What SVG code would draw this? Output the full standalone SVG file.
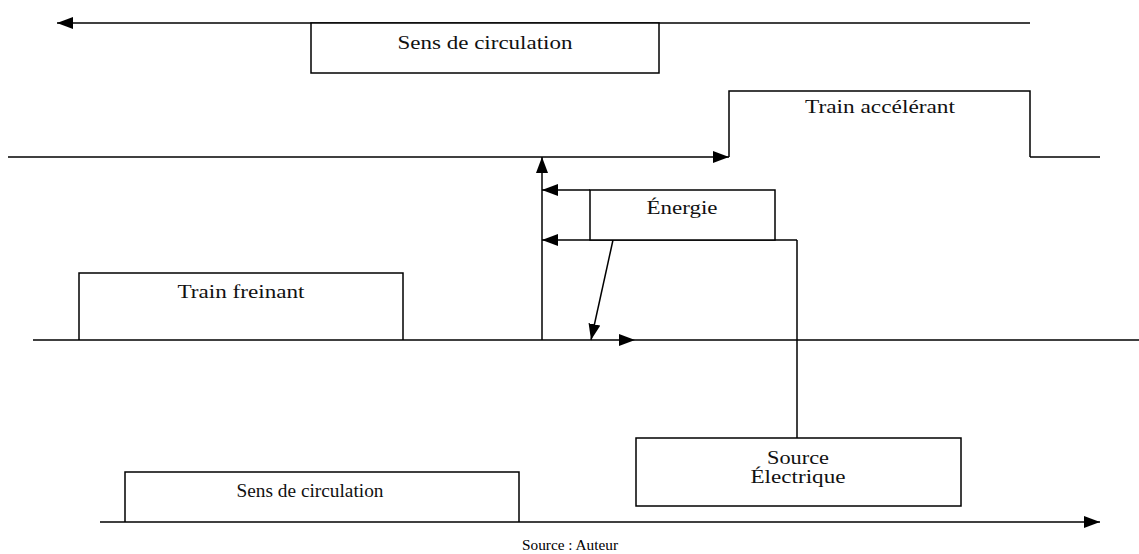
<svg xmlns="http://www.w3.org/2000/svg" width="1139" height="554" viewBox="0 0 1139 554">
<style>
.ln{stroke:#000;stroke-width:1.5;fill:none}
.bx{stroke:#000;stroke-width:1.5;fill:#fff}
.t{font-family:'Liberation Serif','DejaVu Serif',serif;font-size:18px;fill:#111;text-anchor:middle}
.s{font-family:'Liberation Serif','DejaVu Serif',serif;font-size:14px;fill:#000;text-anchor:middle}
</style>
<defs>
<marker id="ah" markerUnits="userSpaceOnUse" markerWidth="16" markerHeight="12" refX="16" refY="6" orient="auto">
<path d="M0,0 L16,6 L0,12 z" fill="#000"/>
</marker>
</defs>
<g id="connectors">
<line class="ln" x1="1030" y1="23" x2="57" y2="23" marker-end="url(#ah)"/>
<line class="ln" x1="8" y1="157" x2="729" y2="157" marker-end="url(#ah)"/>
<line class="ln" x1="1030" y1="157" x2="1100" y2="157"/>
<line class="ln" x1="33" y1="340" x2="635" y2="340" marker-end="url(#ah)"/>
<line class="ln" x1="635" y1="340" x2="1139" y2="340"/>
<line class="ln" x1="542" y1="340" x2="542" y2="157" marker-end="url(#ah)"/>
<line class="ln" x1="590" y1="190" x2="542" y2="190" marker-end="url(#ah)"/>
<line class="ln" x1="797" y1="240" x2="542" y2="240" marker-end="url(#ah)"/>
<line class="ln" x1="797" y1="240" x2="797" y2="438"/>
<line class="ln" x1="613" y1="240" x2="591" y2="340" marker-end="url(#ah)"/>
<line class="ln" x1="100" y1="522" x2="1100" y2="522" marker-end="url(#ah)"/>
</g>
<g id="sens-top">
<rect class="bx" x="311" y="23" width="348" height="50"/>
<text class="t" x="485" y="49" textLength="175" lengthAdjust="spacingAndGlyphs">Sens de circulation</text>
</g>
<g id="train-accelerant">
<path class="ln" d="M729,157 V91 H1030 V157"/>
<text class="t" x="880" y="113" textLength="150" lengthAdjust="spacingAndGlyphs">Train accélérant</text>
</g>
<g id="energie">
<rect class="bx" x="590" y="190" width="185" height="50"/>
<text class="t" x="682" y="214" textLength="71" lengthAdjust="spacingAndGlyphs">Énergie</text>
</g>
<g id="train-freinant">
<path class="ln" d="M79,340 V273 H403 V340"/>
<text class="t" x="241" y="298" textLength="127" lengthAdjust="spacingAndGlyphs">Train freinant</text>
</g>
<g id="source-electrique">
<rect class="bx" x="636" y="438" width="325" height="68"/>
<text class="t" x="798" y="464" textLength="62" lengthAdjust="spacingAndGlyphs">Source</text>
<text class="t" x="798" y="483" textLength="95" lengthAdjust="spacingAndGlyphs">Électrique</text>
</g>
<g id="sens-bottom">
<path class="ln" d="M125,522 V472 H519 V522"/>
<text class="t" x="310" y="497" textLength="147" lengthAdjust="spacingAndGlyphs">Sens de circulation</text>
</g>
<g id="caption">
<text class="s" x="570" y="550" textLength="96" lengthAdjust="spacingAndGlyphs">Source : Auteur</text>
</g>
</svg>
